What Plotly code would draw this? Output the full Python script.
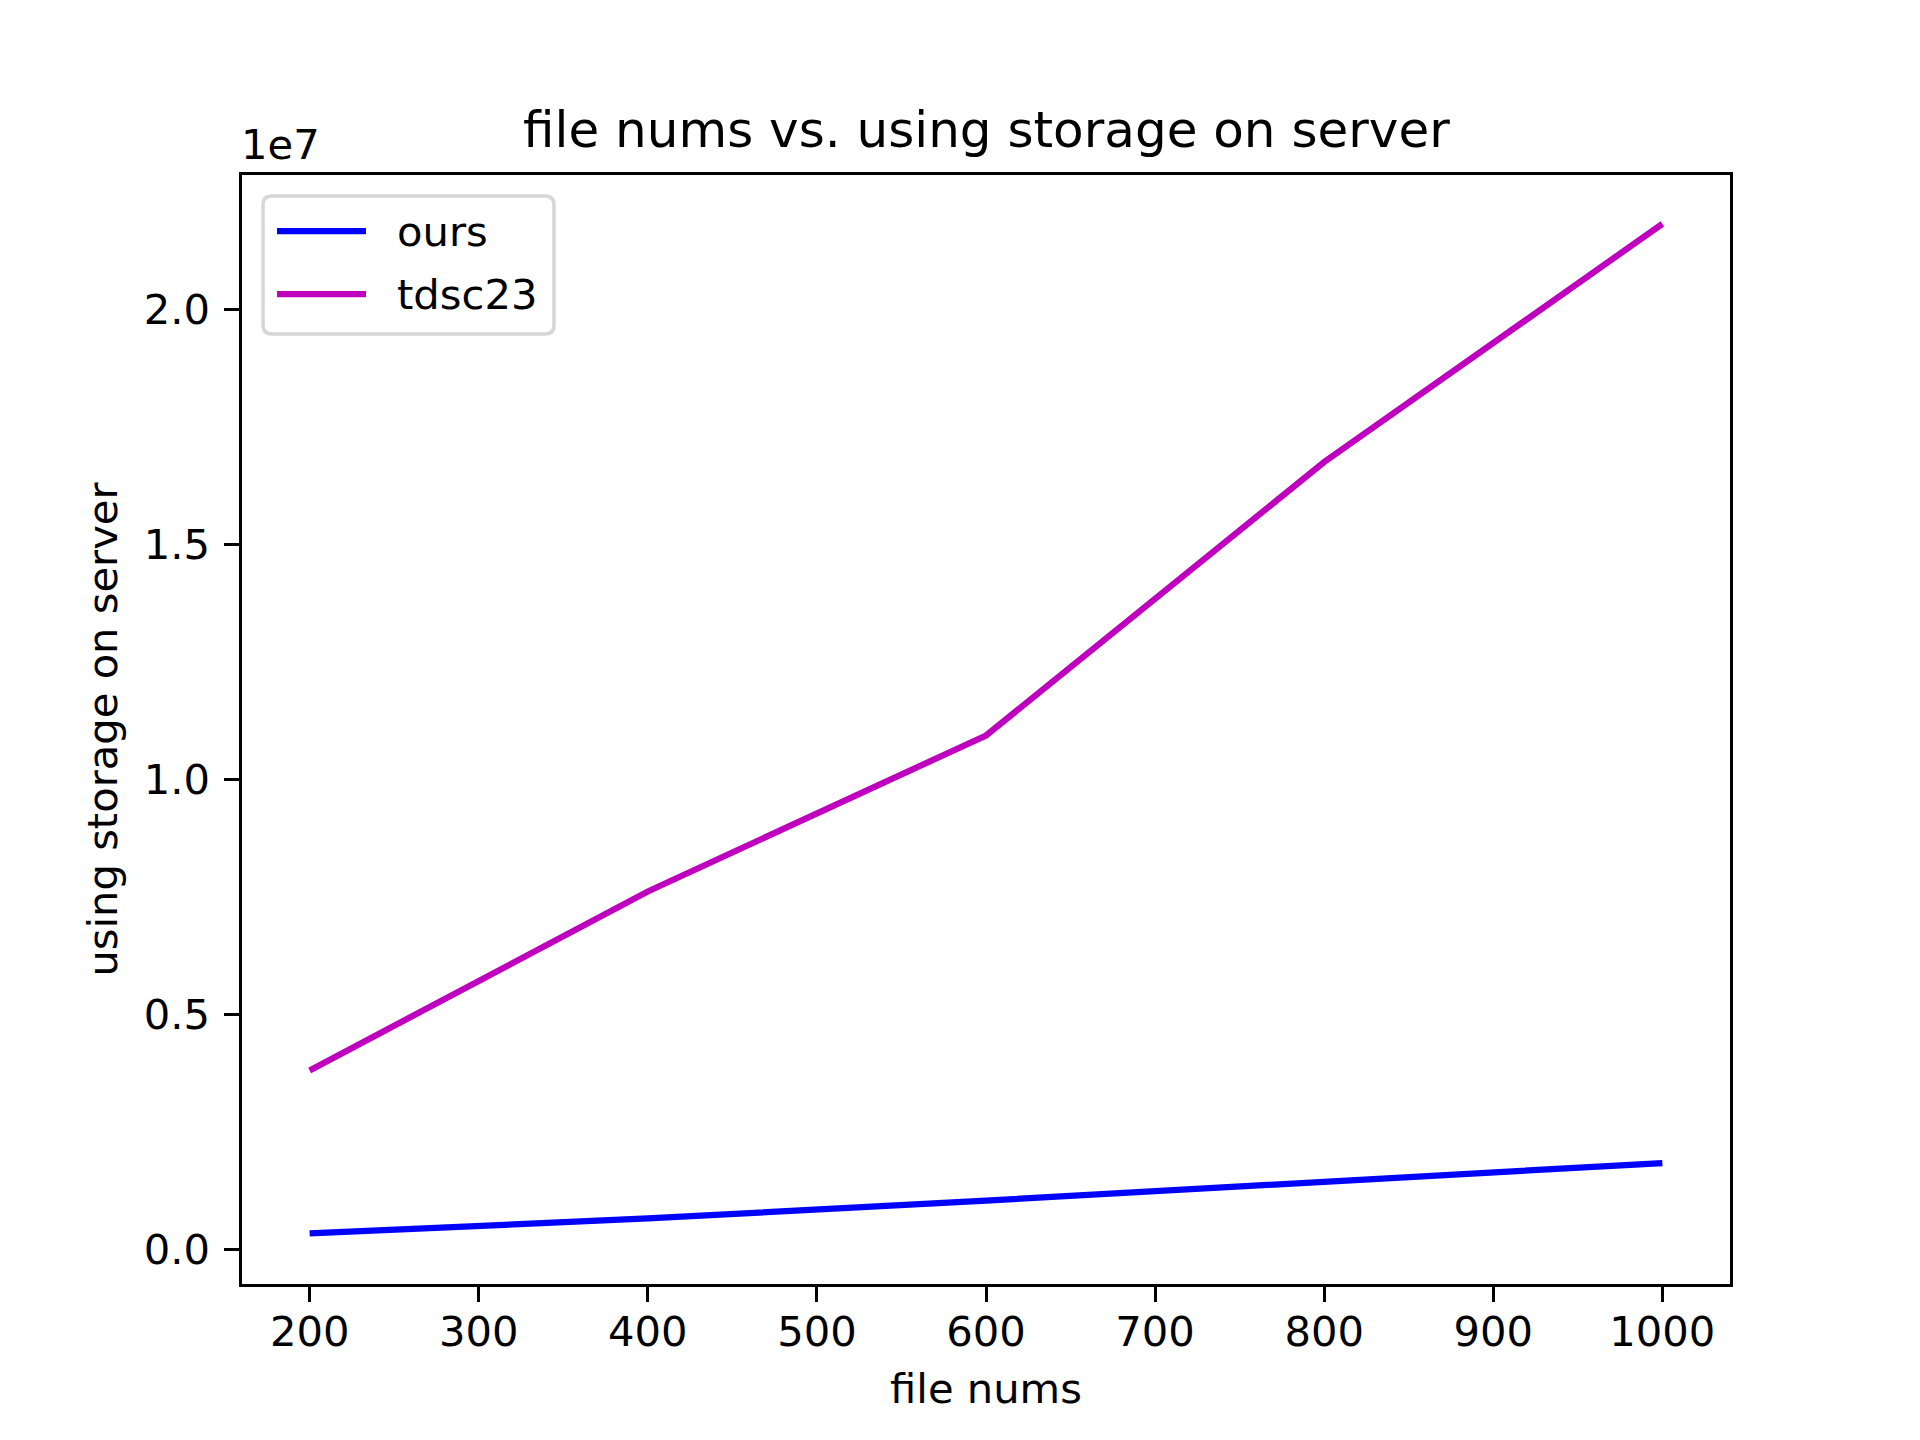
import plotly.graph_objects as go

file_nums = [200, 400, 600, 800, 1000]
ours = [0.34e6, 0.66e6, 1.04e6, 1.43e6, 1.84e6]
tdsc23 = [3.81e6, 7.62e6, 10.94e6, 16.76e6, 21.83e6]
series_names = ["ours", "tdsc23"]
series_colors = ["#0000ff", "#bf00bf"]
ytick_vals = [0, 0.5e7, 1.0e7, 1.5e7, 2.0e7]
ytick_text = ["0.0", "0.5", "1.0", "1.5", "2.0"]
xtick_vals = [200, 300, 400, 500, 600, 700, 800, 900, 1000]

FONT = "DejaVu Sans"
fs = 41.67
lw = 6.25

fig = go.Figure()
for name, vals, col in zip(series_names, [ours, tdsc23], series_colors):
    fig.add_trace(go.Scatter(x=file_nums, y=vals, mode="lines", name=name,
                             line=dict(color=col, width=lw), showlegend=False))

axis_common = dict(showline=True, linecolor="black", linewidth=3.3, mirror=True,
                   ticks="outside", ticklen=14.6, tickwidth=3.3, tickcolor="black",
                   showgrid=False, zeroline=False,
                   tickfont=dict(family=FONT, size=fs, color="black"))

# plot area in px (figure coords): left 240, width 1488, top 173, height 1109
PW, PH = 1488.0, 1109.0
def px(x):
    return (x - 240) / PW
def py(y):
    return (1282 - y) / PH

# manual matplotlib-style legend (rounded frame)
bx0, bx1, by0, by1 = px(261), px(552), py(332), py(194)
rx, ry = 9 / PW, 9 / PH
path = (f"M {bx0+rx},{by0} L {bx1-rx},{by0} Q {bx1},{by0} {bx1},{by0+ry} "
        f"L {bx1},{by1-ry} Q {bx1},{by1} {bx1-rx},{by1} "
        f"L {bx0+rx},{by1} Q {bx0},{by1} {bx0},{by1-ry} "
        f"L {bx0},{by0+ry} Q {bx0},{by0} {bx0+rx},{by0} Z")
shapes = [dict(type="path", path=path, xref="paper", yref="paper",
               fillcolor="rgba(255,255,255,0.8)", line=dict(color="#d6d6d6", width=3.5),
               layer="above")]
annotations = []
legend_rows = [229, 292]
for name, col, yrow in zip(series_names, series_colors, legend_rows):
    shapes.append(dict(type="line", xref="paper", yref="paper",
                       x0=px(275), x1=px(364), y0=py(yrow), y1=py(yrow),
                       line=dict(color=col, width=lw), layer="above"))
    annotations.append(dict(text=name, xref="paper", yref="paper", x=px(393), y=py(yrow),
                            xanchor="left", yanchor="middle", showarrow=False,
                            font=dict(family=FONT, size=fs, color="black")))

annotations += [
    dict(text="file nums vs. using storage on server", xref="paper", yref="paper",
         x=0.5, y=1, xanchor="center", yanchor="bottom", yshift=14,
         showarrow=False, font=dict(family=FONT, size=50, color="black")),
    dict(text="1e7", xref="paper", yref="paper", x=0, y=1,
         xanchor="left", yanchor="bottom", yshift=4, xshift=-3,
         showarrow=False, font=dict(family=FONT, size=fs, color="black")),
]

fig.update_layout(
    width=1920, height=1440, autosize=False,
    margin=dict(l=234, r=198, t=167, b=164, pad=0),
    paper_bgcolor="white", plot_bgcolor="white",
    font=dict(family=FONT, size=fs, color="black"),
    xaxis=dict(range=[160, 1040], tickvals=xtick_vals, ticklabelstandoff=-6,
               title=dict(text="file nums", font=dict(family=FONT, size=fs), standoff=20),
               **axis_common),
    yaxis=dict(range=[-0.0735e7, 2.287e7], tickvals=ytick_vals, ticktext=ytick_text,
               ticklabelstandoff=6,
               title=dict(text="using storage on server", font=dict(family=FONT, size=fs), standoff=14),
               **axis_common),
    showlegend=False,
    shapes=shapes,
    annotations=annotations,
)

fig.write_html("out.html")
